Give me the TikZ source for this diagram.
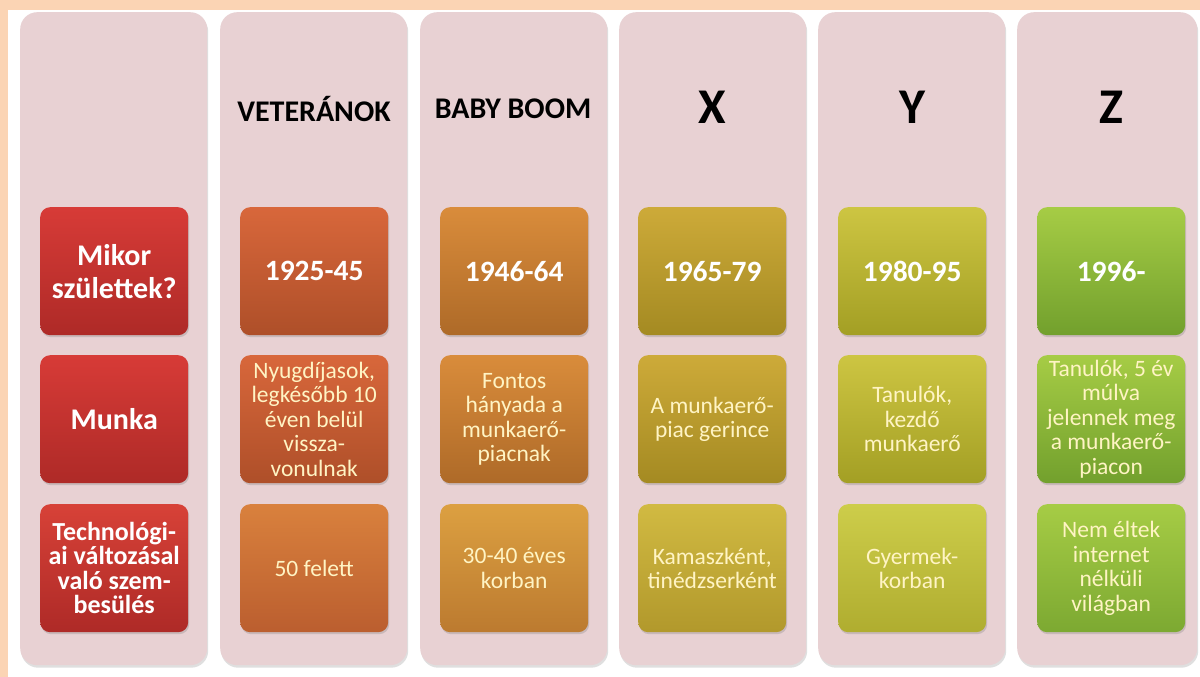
\documentclass[tikz,border=0pt]{standalone}
\usepackage{fontspec}
\setmainfont{Carlito}
\usetikzlibrary{shadows}

\definecolor{peach}{HTML}{FBD4B4}
\definecolor{panelpink}{HTML}{E8D1D3}
\definecolor{cream}{HTML}{FFF4C4}
\definecolor{redtop}{HTML}{D73B37}
\definecolor{redbot}{HTML}{AE2A27}
\definecolor{rusttop}{HTML}{D8673B}
\definecolor{rustbot}{HTML}{AE4F29}
\definecolor{rustlow}{HTML}{D9813D}
\definecolor{ambertop}{HTML}{D98C3B}
\definecolor{amberbot}{HTML}{AE6A28}
\definecolor{amberlow}{HTML}{DCA041}
\definecolor{ochretop}{HTML}{CDAA39}
\definecolor{ochrebot}{HTML}{A48A22}
\definecolor{ochrelow}{HTML}{D1BA42}
\definecolor{limetop}{HTML}{CDC542}
\definecolor{limebot}{HTML}{A39F24}
\definecolor{limelow}{HTML}{CDCD4A}
\definecolor{greentop}{HTML}{A6CC45}
\definecolor{greenbot}{HTML}{72A02D}

\tikzset{
  panel/.style={fill=panelpink, rounded corners=17pt, minimum width=187pt,
    minimum height=653pt, anchor=north west, inner sep=0pt,
    drop shadow={shadow xshift=1pt, shadow yshift=-2.5pt, opacity=0.25}},
  cell/.style={rounded corners=10pt, minimum width=148pt, minimum height=128pt,
    anchor=north west, text width=148pt, align=flush center, inner sep=0pt,
    drop shadow={shadow xshift=1pt, shadow yshift=-2pt, opacity=0.3}},
  headlbl/.style={font=\fontsize{30}{32}\selectfont\bfseries},
  biglbl/.style={font=\fontsize{50}{52}\selectfont\bfseries},
  rowlbl/.style={text=white, font=\fontsize{30}{33}\selectfont\bfseries},
  techlbl/.style={text=white, font=\fontsize{26}{24.5}\selectfont\bfseries},
  yearlbl/.style={text=white, font=\fontsize{29.5}{31}\selectfont\bfseries},
  infolbl/.style={text=cream, font=\fontsize{23.5}{24.5}\selectfont},
}

\begin{document}
\begin{tikzpicture}[x=1pt, y=-1pt]
  \useasboundingbox (0,0) rectangle (1200,677);
  \fill[white] (0,0) rectangle (1200,677);
  \fill[peach] (0,0) rectangle (1200,10);
  \fill[peach] (0,0) rectangle (8,677);

  % columns
  \node[panel] (panelrow) at (20,12) {};
  \node[panel] (panelvet) at (220,12) {};
  \node[panel] (panelbaby) at (420,12) {};
  \node[panel] (panelx) at (619,12) {};
  \node[panel] (panely) at (818,12) {};
  \node[panel, minimum width=180pt] (panelz) at (1017,12) {};

  % headings
  \node[headlbl] (headvet) at (314,109) {VETERÁNOK};
  \node[headlbl] (headbaby) at (513,109) {BABY BOOM};
  \node[biglbl] (headx) at (712,107) {X};
  \node[biglbl] (heady) at (912,107) {Y};
  \node[biglbl] (headz) at (1111,107) {Z};

  % row labels
  \node[cell, top color=redtop, bottom color=redbot, rowlbl] (askborn) at (40,207) {Mikor\\születtek?};
  \node[cell, top color=redtop, bottom color=redbot, rowlbl] (askwork) at (40,355) {Munka};
  \node[cell, top color=redtop!85!rusttop, bottom color=redbot, techlbl] (asktech) at (40,504) {Technológi-\\ai változásal\\való szem-\\besülés};

  % veteranok
  \node[cell, top color=rusttop, bottom color=rustbot, yearlbl] (vetborn) at (240,207) {1925-45};
  \node[cell, top color=rusttop, bottom color=rustbot, infolbl] (vetwork) at (240,355) {Nyugdíjasok,\\legkésőbb 10\\éven belül\\vissza-\\vonulnak};
  \node[cell, top color=rustlow, bottom color=rustbot!70!rustlow, infolbl] (vettech) at (240,504) {50 felett};

  % baby boom
  \node[cell, top color=ambertop, bottom color=amberbot, yearlbl] (babyborn) at (440,207) {1946-64};
  \node[cell, top color=ambertop, bottom color=amberbot, infolbl] (babywork) at (440,355) {Fontos\\hányada a\\munkaerő-\\piacnak};
  \node[cell, top color=amberlow, bottom color=amberbot!70!amberlow, infolbl] (babytech) at (440,504) {30-40 éves\\korban};

  % x
  \node[cell, top color=ochretop, bottom color=ochrebot, yearlbl] (xborn) at (638,207) {1965-79};
  \node[cell, top color=ochretop, bottom color=ochrebot, infolbl] (xwork) at (638,355) {A munkaerő-\\piac gerince};
  \node[cell, top color=ochrelow, bottom color=ochrebot!70!ochrelow, infolbl] (xtech) at (638,504) {Kamaszként,\\tinédzserként};

  % y
  \node[cell, top color=limetop, bottom color=limebot, yearlbl] (yborn) at (838,207) {1980-95};
  \node[cell, top color=limetop, bottom color=limebot, infolbl] (ywork) at (838,355) {Tanulók,\\kezdő\\munkaerő};
  \node[cell, top color=limelow, bottom color=limebot!70!limelow, infolbl] (ytech) at (838,504) {Gyermek-\\korban};

  % z
  \node[cell, top color=greentop, bottom color=greenbot, yearlbl] (zborn) at (1037,207) {1996-};
  \node[cell, top color=greentop, bottom color=greenbot, infolbl] (zwork) at (1037,355) {Tanulók, 5 év\\múlva\\jelennek meg\\a munkaerő-\\piacon};
  \node[cell, top color=greentop, bottom color=greenbot!80!greentop, infolbl] (ztech) at (1037,504) {Nem éltek\\internet\\nélküli\\világban};
\end{tikzpicture}
\end{document}
